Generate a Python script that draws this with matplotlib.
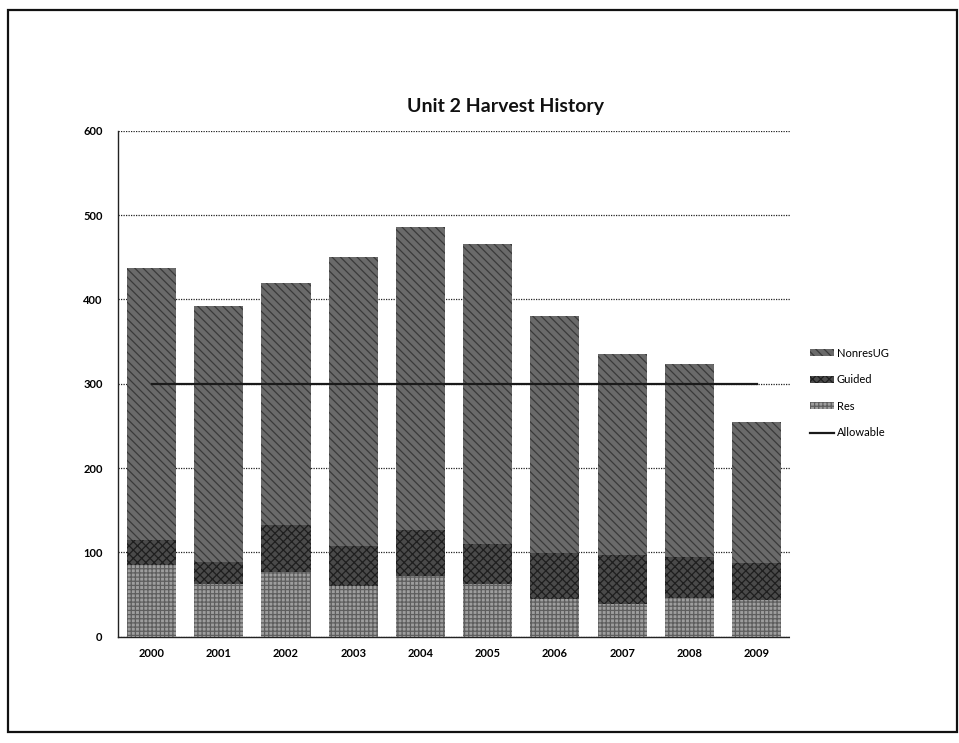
import matplotlib
matplotlib.use("Agg")
import matplotlib.pyplot as plt
import matplotlib.patches as mpatches
import numpy as np

years = ["2000", "2001", "2002", "2003", "2004", "2005", "2006", "2007", "2008", "2009"]
res = [85, 63, 77, 60, 72, 62, 45, 39, 46, 44]
guided = [30, 26, 55, 48, 55, 48, 54, 58, 48, 43]
nonres_ug = [322, 303, 287, 342, 359, 356, 281, 238, 229, 168]
allowable = [300, 300, 300, 300, 300, 300, 300, 300, 300, 300]
yticks = [0, 100, 200, 300, 400, 500, 600]

plt.rcParams['font.family'] = ['Lato', 'DejaVu Sans']
plt.rcParams['hatch.linewidth'] = 0.9

fig = plt.figure(figsize=(9.59, 7.43), dpi=100)
ax = fig.add_axes([0.123, 0.143, 0.701, 0.681])

x = np.arange(len(years))
w = 0.73
res_a = np.array(res)
gui_a = np.array(guided)
non_a = np.array(nonres_ug)

b_res = ax.bar(x, res_a, w, color='#9e9e9e', hatch='++++', edgecolor='#5e5e5e', linewidth=0, zorder=3)
b_gui = ax.bar(x, gui_a, w, bottom=res_a, color='#4a4a4a', hatch='xxxx', edgecolor='#1e1e1e', linewidth=0, zorder=3)
b_non = ax.bar(x, non_a, w, bottom=res_a + gui_a, color='#6a6a6a', hatch='\\\\\\\\', edgecolor='#3a3a3a', linewidth=0, zorder=3)
ln, = ax.plot(x, allowable, color='#1a1a1a', linewidth=1.6, zorder=4)

ax.set_xlim(-0.5, len(years) - 0.5)
ax.set_ylim(0, 600)
ax.set_yticks(yticks)
ax.set_yticklabels([str(t) for t in yticks], fontsize=8, fontweight='bold')
ax.set_xticks(x)
ax.set_xticklabels(years, fontsize=8, fontweight='bold')
ax.tick_params(axis='x', length=0, pad=8)
ax.tick_params(axis='y', length=0, pad=11)

ax.yaxis.grid(True, color='#222222', linestyle=(0, (1, 1)), linewidth=0.9, zorder=1)
for s in ['top', 'right']:
    ax.spines[s].set_visible(False)
for s in ['left', 'bottom']:
    ax.spines[s].set_linestyle((0, (1, 1)))
    ax.spines[s].set_linewidth(1.0)
    ax.spines[s].set_color('#222222')

fig.text(0.527, 0.856, "Unit 2 Harvest History", ha='center', va='center',
         fontsize=14, fontweight='bold', color='#111111')

handles = [b_non[0], b_gui[0], b_res[0], ln]
labels = ["NonresUG", "Guided", "Res", "Allowable"]
leg = fig.legend(handles, labels, loc='upper left', bbox_to_anchor=(0.840, 0.538),
                 frameon=False, fontsize=8, handlelength=2.2, handleheight=0.6,
                 labelspacing=1.4, handletextpad=0.2, borderaxespad=0)

frame = mpatches.Rectangle((0.008, 0.015), 0.99, 0.972, transform=fig.transFigure,
                           fill=False, edgecolor='#111111', linewidth=1.6)
fig.patches.append(frame)

fig.savefig("out.png", dpi=100, facecolor='white')
